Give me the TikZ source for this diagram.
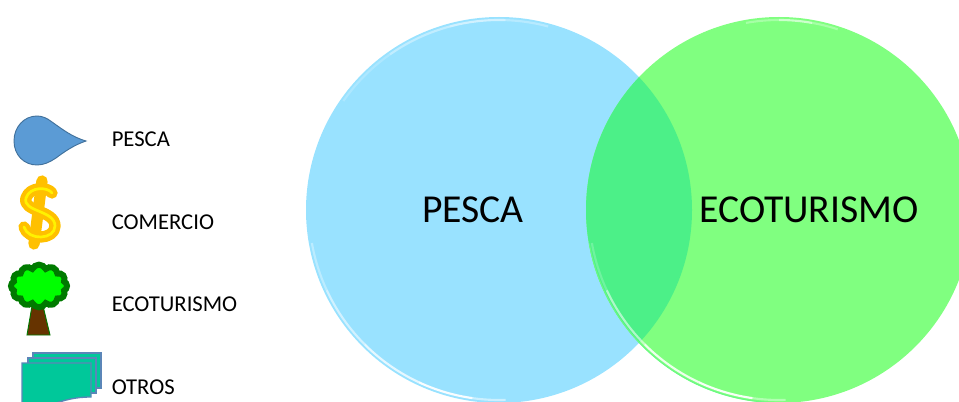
\documentclass[tikz,border=0pt]{standalone}
\usepackage{fontspec}
\setmainfont{Carlito}
\usetikzlibrary{shapes.symbols}
\definecolor{pescablue}{HTML}{99E2FF}
\definecolor{ecogreen}{HTML}{80FF80}
\definecolor{bothgreen}{HTML}{4CF088}
\definecolor{dropblue}{HTML}{5B9BD5}
\definecolor{dropedge}{HTML}{41719C}
\definecolor{sheetfill}{HTML}{00C89A}
\definecolor{sheetedge}{HTML}{5B86B8}
\definecolor{trunkbrown}{HTML}{663300}
\definecolor{leafdark}{HTML}{007A00}
\definecolor{dollarorange}{HTML}{FFC000}
\tikzset{
  legendtext/.style={anchor=west, inner sep=0pt, font=\fontsize{17}{19}\selectfont},
  bigtext/.style={inner sep=0pt, font=\fontsize{29.7}{32}\selectfont},
  bigcircle/.style={circle, inner sep=0pt, minimum size=289.5pt},
  sheet/.style={draw=sheetedge, fill=sheetfill, line width=1pt},
  rim/.style={white, line width=1.6pt}
}
\begin{document}
\begin{tikzpicture}[x=.75pt, y=-.75pt]
        \useasboundingbox (0,0) rectangle (959,402);
        \clip (0,0) rectangle (959,402);
        \node[bigcircle, fill=pescablue] (pescacircle) at (499,210) {};
        \foreach \a/\b/\o in {215/235/.2, 235/255/.4, 255/272/.55, 272/285/.3, 170/155/.35, 155/135/.55, 135/115/.75, 115/98/.95, 98/88/.5}
          \draw[rim, opacity=\o] (499,210) ++(\a:190) arc (\a:\b:190);
        \node[bigcircle, fill=ecogreen] (ecocircle) at (779,210) {};
        \begin{scope}
          \clip (499,210) circle (193);
          \node[bigcircle, fill=bothgreen] at (779,210) {};
        \end{scope}
        \draw[ecogreen!60!bothgreen, line width=.8pt] (779,210) ++(170:192.6) arc (170:90:192.6);
        \foreach \a/\b/\o in {260/270/.3, 270/280/.6, 280/288/.3, 348/360/.3, 360/372/.4, 170/155/.2, 155/135/.55, 135/115/.85, 115/98/.95, 98/88/.4}
          \draw[rim, opacity=\o] (779,210) ++(\a:190) arc (\a:\b:190);
        \node[bigtext] (pescabig) at (473,210) {PESCA};
        \node[bigtext] (ecobig) at (809,210) {ECOTURISMO};
        \draw[dropedge, fill=dropblue, line width=.7pt] (86,141) .. controls (72,137) and (62,129) .. (52,122)
          .. controls (47,118) and (42,116) .. (37,116) .. controls (24,116) and (14,127) .. (14,141)
          .. controls (14,155) and (24,165) .. (37,165) .. controls (44,165) and (50,162) .. (56,158)
          .. controls (64,152) and (74,145) .. (86,141) -- cycle;
        \draw[dollarorange, line width=8.5pt, line cap=round, line join=round] (42,181) -- (34,244);
        \draw[dollarorange, line width=8.5pt, line cap=round, line join=round] (52,193) .. controls (48,187) and (30,186) .. (26,198)
          .. controls (22,212) and (55,210) .. (55,226) .. controls (55,240) and (28,241) .. (24,227);
        \draw[yellow, line width=2pt, line cap=round] (52,193) .. controls (48,187) and (30,186) .. (26,198)
          .. controls (22,212) and (55,210) .. (55,226) .. controls (55,240) and (28,241) .. (24,227);
        \draw[leafdark, fill=trunkbrown, line width=.7pt] (32,306) -- (43,306) -- (50,335) -- (27,335) -- cycle;
        \node[cloud, cloud puffs=12, cloud puff arc=130, aspect=1.3, draw=leafdark, fill=green, line width=4.5pt, inner sep=0pt, minimum width=42pt, minimum height=32pt] (crown) at (39,286) {};
        \draw[sheet] (33,353) rectangle (101,388);
        \draw[sheet] (28,358) rectangle (96,393);
        \draw[sheet] (22,363) -- (91,363) -- (91,397) .. controls (75,397) and (65,400) .. (50,405) -- (22,405) -- cycle;
        \node[legendtext] (pescalabel) at (111.5,139) {PESCA};
        \node[legendtext] (comerciolabel) at (111.5,222) {COMERCIO};
        \node[legendtext] (ecolabel) at (111.5,304) {ECOTURISMO};
        \node[legendtext] (otroslabel) at (111.5,387) {OTROS};
      \end{tikzpicture}
\end{document}
